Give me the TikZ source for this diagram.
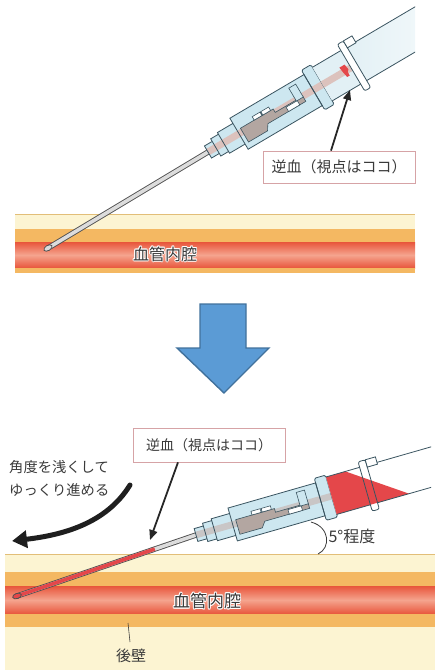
\documentclass[tikz,border=0pt]{standalone}
\usepackage{fontspec}
\newfontfamily\jp{Noto Sans CJK JP}
\usetikzlibrary{arrows.meta,calc}

\definecolor{cream}{HTML}{FCF4D2}
\definecolor{orangeband}{HTML}{F4B862}
\definecolor{redband}{HTML}{E8553B}
\definecolor{redlight}{HTML}{F5A48E}
\definecolor{skinline}{HTML}{E2BE78}
\definecolor{bodyfill}{HTML}{CDE7F0}
\definecolor{bodyline}{HTML}{3A5460}
\definecolor{stripepink}{HTML}{DCC2BD}
\definecolor{stripegray}{HTML}{C9C6C6}
\definecolor{mechgray}{HTML}{B3A6A1}
\definecolor{labelline}{HTML}{D6A3A6}
\definecolor{textgray}{HTML}{3A3A3A}
\definecolor{bloodred}{HTML}{E4474A}
\definecolor{barrelfill}{HTML}{E2F0F5}
\definecolor{needlefill}{HTML}{DCDCDC}
\definecolor{needleline}{HTML}{505050}
\definecolor{arrowblue}{HTML}{5B9BD5}
\definecolor{arrowedge}{HTML}{41719C}

% white halo behind a dark label
\newcommand{\glowtext}[1]{%
  \leavevmode
  \rlap{\kern0.9pt\textcolor{white}{#1}}%
  \rlap{\kern-0.9pt\textcolor{white}{#1}}%
  \rlap{\raisebox{0.9pt}{\textcolor{white}{#1}}}%
  \rlap{\raisebox{-0.9pt}{\textcolor{white}{#1}}}%
  \rlap{\kern0.7pt\raisebox{0.7pt}{\textcolor{white}{#1}}}%
  \rlap{\kern-0.7pt\raisebox{0.7pt}{\textcolor{white}{#1}}}%
  \rlap{\kern0.7pt\raisebox{-0.7pt}{\textcolor{white}{#1}}}%
  \rlap{\kern-0.7pt\raisebox{-0.7pt}{\textcolor{white}{#1}}}%
  #1}

% catheter hub, body and inner mechanism in local axis coordinates
\newcommand{\hubparts}[2]{%
  \fill[bodyfill] (0,-7) rectangle (9,7);
  \fill[bodyfill] (9,-10) rectangle (18,10);
  \fill[bodyfill] (18,-12) rectangle (36,12);
  \fill[bodyfill] (36,-18) rectangle (122,18);
  \fill[bodyfill] (122,-23) rectangle (133,23);
  \fill[#1] (0,-3.5) rectangle (133,3.5);
  \filldraw[fill=#2, thinoutl] (40,-4) -- (78,-4) -- (78,0) -- (110,0) -- (110,6)
     -- (66,6) -- (62,12) -- (40,12) -- cycle;
  \filldraw[fill=white, thinoutl] (56,-8) rectangle (65,-4) (66,-8) rectangle (75,-4)
     (90,1) rectangle (103,6);
  \filldraw[fill=bodyfill, thinoutl] (102,-14) rectangle (110,1);
  \draw[outl] (0,-7) rectangle (9,7) (9,-10) rectangle (18,10)
     (18,-12) rectangle (36,12) (36,-18) rectangle (122,18);
  \draw[outl, rounded corners=1.5pt] (122,-23) rectangle (133,23);
}

\begin{document}
\begin{tikzpicture}[x=1pt, y=-1pt,
  outl/.style={draw=bodyline, line width=0.8pt},
  thinoutl/.style={draw=bodyline, line width=0.6pt},
  labelbox/.style={draw=labelline, fill=white, text=textgray, line width=0.7pt,
    font=\jp\fontsize{15}{18}\selectfont, minimum width=152pt, minimum height=32pt, inner sep=0pt},
  pointer/.style={-{Triangle[length=10pt,width=8pt]}, line width=1.8pt, draw=black!85},
  plain/.style={text=textgray, inner sep=0pt},
  needleout/.style={line width=5.4pt, draw=needleline},
  needlein/.style={line width=3.6pt, draw=needlefill}]
\useasboundingbox (0,0) rectangle (435,670);

% ---------------- upper scene ----------------
\fill[cream] (15,214) rectangle (415,229);
\fill[orangeband] (15,229) rectangle (415,242);
\shade[top color=redband, bottom color=redband, middle color=redlight] (15,242) rectangle (415,268);
\fill[orangeband] (15,268) rectangle (415,273);
\draw[skinline, line width=0.8pt] (15,214) -- (415,214);
\node[plain, font=\jp\fontsize{16}{18}\selectfont] (lumen1) at (165,254) {\glowtext{血管内腔}};

\coordinate (tip1) at (48,248);
\coordinate (nose1) at (208,152);
\draw[needleout] (tip1) -- (nose1);
\draw[needlein] (tip1) -- (nose1);
\begin{scope}[shift={(tip1)}, rotate=31]
  \filldraw[fill=needlefill, draw=needleline, line width=0.8pt] (0,0) ellipse [x radius=4.5pt, y radius=2.6pt];
\end{scope}

\begin{scope}
\clip (15,0) rectangle (415,290);
\begin{scope}[shift={(nose1)}, rotate=30.5]
  \hubparts{stripepink}{mechgray}
  \fill[barrelfill] (133,-20) rectangle (166,19);
  \fill[stripepink] (133,-3.5) rectangle (166,3.5);
  \shade[left color=barrelfill, right color=white] (173,-20) rectangle (320,19);
  \fill[bloodred] (156,-6) -- (162,-6) -- (163,0) -- (161,2) -- (161,6) -- (158,6) -- (157,1) -- cycle;
  \draw[outl] (133,-20) -- (166,-20) (133,19) -- (166,19);
  \filldraw[fill=white, outl, rounded corners=2pt] (166,-27) rectangle (173,27);
  \filldraw[fill=white, outl] (173,-27) rectangle (183,-19);
  \draw[outl] (183,-20) -- (320,-20) (173,19) -- (320,19);
\end{scope}
\end{scope}

\node[labelbox] (lab1) at (339,167) {逆血（視点はココ）};
\coordinate (flash1) at (350,90);
\draw[pointer] ([xshift=-8pt]lab1.north) -- (flash1);

% ---------------- transition arrow ----------------
\filldraw[fill=arrowblue, draw=arrowedge, line width=1.4pt, line join=miter]
  (200,304) -- (246,304) -- (246,348) -- (269,348) -- (224,393) -- (177,348) -- (200,348) -- cycle;

% ---------------- lower scene ----------------
\fill[cream] (5,554) rectangle (435,572);
\fill[orangeband] (5,572) rectangle (435,586);
\shade[top color=redband, bottom color=redband, middle color=redlight] (5,586) rectangle (435,614);
\fill[orangeband] (5,614) rectangle (435,627);
\fill[cream] (5,627) rectangle (435,670);
\draw[skinline, line width=0.8pt] (5,554) -- (435,554);
\node[plain, font=\jp\fontsize{17}{19}\selectfont] (lumen2) at (207,601) {\glowtext{血管内腔}};

\coordinate (tip2) at (17,596);
\coordinate (nose2) at (196,535);
\draw[needleout] (tip2) -- (nose2);
\draw[needlein] (tip2) -- (nose2);
\draw[line width=3.6pt, draw=bloodred] (tip2) -- ($(tip2)!0.77!(nose2)$);
\begin{scope}[shift={(tip2)}, rotate=19]
  \filldraw[fill=bloodred, draw=needleline, line width=0.8pt] (0,0) ellipse [x radius=4.5pt, y radius=2.6pt];
\end{scope}

\begin{scope}
\clip (0,420) rectangle (431,560);
\begin{scope}[shift={(nose2)}, rotate=16, xscale=1.06, yscale=0.95]
  \hubparts{stripegray}{mechgray}
  \fill[white] (133,-21) rectangle (166,20);
  \fill[bloodred] (133,-21) -- (152,-21) -- (204,20) -- (133,20) -- cycle;
  \draw[outl] (133,-21) -- (166,-21) (133,20) -- (166,20);
  \draw[outl, rounded corners=2pt] (166,-27) rectangle (173,27);
  \filldraw[fill=white, outl] (173,-27) rectangle (183,-19);
  \draw[outl] (183,-21) -- (320,-21) (173,20) -- (320,20);
\end{scope}
\end{scope}

\node[labelbox, font=\jp\fontsize{14}{17}\selectfont, minimum height=34pt] (lab2) at (209,445) {逆血（視点はココ）};
\coordinate (bloodtip) at (150,540);
\draw[pointer] ([xshift=-31pt]lab2.south) -- (bloodtip);

\node[plain, anchor=west, align=left, font=\jp\fontsize{14.3}{23}\selectfont] (advice) at (9,478)
  {角度を浅くして\\ゆっくり進める};
\draw[line width=5pt, draw=black!88, line cap=round, -{Triangle[length=15pt,width=17pt]}]
  (130,485) .. controls (106,524) and (62,535) .. (12,541);

\node[plain, font=\jp\fontsize{16}{18}\selectfont] (angle) at (352,536) {5°程度};
\coordinate (arcstart) at (311,522);
\coordinate (arcend) at (318,554);
\draw[line width=0.8pt, draw=textgray] (arcstart) .. controls (330,527) and (331,548) .. (arcend);

\node[plain, font=\jp\fontsize{15}{17}\selectfont] (wall) at (131,656) {後壁};
\coordinate (wallmark) at (128,623);
\draw[line width=0.6pt, draw=textgray] (wallmark) -- (130,642);
\end{tikzpicture}
\end{document}
